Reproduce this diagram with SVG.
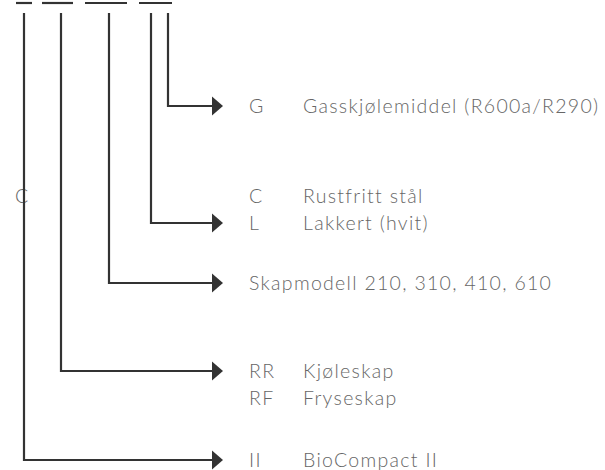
<svg xmlns="http://www.w3.org/2000/svg" width="605" height="470" viewBox="0 0 605 470">
<style>
.ln{fill:none;stroke:#333;stroke-width:2.2}
.ah{fill:#333}
.t{font-family:Lato,"Open Sans","Liberation Sans",sans-serif;font-weight:300;font-size:19.5px;letter-spacing:1.3px;fill:#666}
</style>
<defs>
<path id="ah" d="M0,-9.5 L11,0 L0,9.5 Z"/>
</defs>
<g id="bars">
<line class="ln" x1="16" y1="3" x2="32" y2="3"/>
<line class="ln" x1="42" y1="3" x2="73" y2="3"/>
<line class="ln" x1="85" y1="3" x2="127" y2="3"/>
<line class="ln" x1="139" y1="3" x2="172" y2="3"/>
</g>
<g id="node-stray-c">
<text class="t" x="15" y="203">C</text>
</g>
<g id="connectors">
<polyline class="ln" points="168,13 168,106 213,106"/>
<use href="#ah" class="ah" x="212" y="106"/>
<polyline class="ln" points="151,13 151,223 213,223"/>
<use href="#ah" class="ah" x="212" y="223"/>
<polyline class="ln" points="109,13 109,283 213,283"/>
<use href="#ah" class="ah" x="212" y="283"/>
<polyline class="ln" points="61,13 61,371 213,371"/>
<use href="#ah" class="ah" x="212" y="371"/>
<polyline class="ln" points="24,13 24,460 213,460"/>
<use href="#ah" class="ah" x="212" y="460"/>
</g>
<g id="node-g">
<text class="t" x="249" y="113">G</text>
<text class="t" x="303" y="113">Gasskjølemiddel (R600a/R290)</text>
</g>
<g id="node-finish">
<text class="t" x="249" y="203">C</text>
<text class="t" x="303" y="203">Rustfritt stål</text>
<text class="t" x="249" y="230">L</text>
<text class="t" x="303" y="230">Lakkert (hvit)</text>
</g>
<g id="node-model">
<text class="t" x="249" y="290">Skapmodell 210, 310, 410, 610</text>
</g>
<g id="node-type">
<text class="t" x="249" y="378">RR</text>
<text class="t" x="303" y="378">Kjøleskap</text>
<text class="t" x="249" y="405">RF</text>
<text class="t" x="303" y="405">Fryseskap</text>
</g>
<g id="node-series">
<text class="t" x="249" y="467">II</text>
<text class="t" x="303" y="467">BioCompact II</text>
</g>
</svg>
